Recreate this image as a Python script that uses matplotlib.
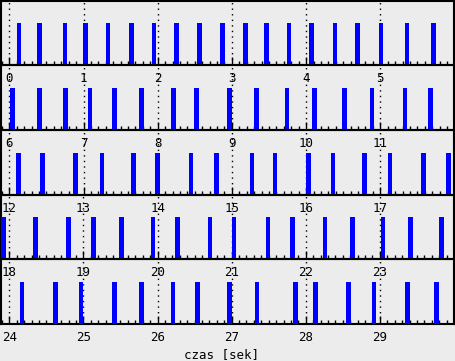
import numpy as np
import matplotlib.pyplot as plt

# beat times in seconds
beats_row1 = [0.13, 0.41, 0.75, 1.03, 1.33, 1.65, 1.95, 2.25, 2.56, 2.87,
              3.18, 3.47, 3.77, 4.07, 4.39, 4.69, 5.01, 5.36, 5.72]
beats_row2 = [6.04, 6.41, 6.76, 7.09, 7.42, 7.78, 8.21, 8.52, 8.97, 9.33,
              9.74, 10.11, 10.52, 10.89, 11.33, 11.68]
beats_row3 = [12.12, 12.45, 12.89, 13.25, 13.67, 14.00, 14.45, 14.79, 15.27, 15.58,
              16.03, 16.36, 16.79, 17.13, 17.58, 17.92]
beats_row4 = [18.35, 18.80, 19.14, 19.51, 19.94, 20.27, 20.71, 21.03, 21.49, 21.82,
              22.26, 22.63, 23.04, 23.41, 23.83]
beats_row5 = [24.17, 24.62, 24.97, 25.42, 25.78, 26.21, 26.54, 26.97, 27.34, 27.86,
              28.13, 28.58, 28.92, 29.37, 29.76]
beat_height = 0.65

beats = np.array(beats_row1 + beats_row2 + beats_row3 + beats_row4 + beats_row5)
row_starts = [0, 6, 12, 18, 24]

W, H = 455, 361
fig = plt.figure(figsize=(W / 100, H / 100), dpi=100, facecolor='#ececec')

# pixel rows of each strip (top edge), last value is bottom of last strip
row_px = [1, 65, 130, 195, 259, 324]

for k, t0 in enumerate(row_starts):
    top, bot = row_px[k], row_px[k + 1]
    ax = fig.add_axes([1 / W, 1 - bot / H, 453 / W, (bot - top) / H])
    ax.patch.set_alpha(0)    # transparent so the labels of the strip above stay visible

    lo, hi = t0 - 0.112, t0 + 5.993
    sel = beats[(beats > lo - 0.05) & (beats < hi + 0.05)]
    ax.bar(sel, beat_height, width=0.062, color='#0000ff', linewidth=0, zorder=3)

    ax.set_xlim(lo, hi)
    ax.set_ylim(0, 1)
    ax.set_yticks([])

    secs = np.arange(t0, t0 + 6)
    ax.set_xticks(secs)
    ax.set_xticklabels([str(s) for s in secs], family='DejaVu Sans Mono', fontsize=9)
    ax.set_xticks(np.arange(t0 - 0.1, t0 + 6, 0.1), minor=True)
    ax.tick_params(axis='x', which='major', direction='in', length=6, width=1, pad=5, color='black')
    ax.tick_params(axis='x', which='minor', direction='in', length=3, width=1, color='black')
    ax.grid(axis='x', which='major', color='black', linestyle=(0, (1, 3)), linewidth=1)

    for side in ax.spines.values():
        side.set_linewidth(1.5)
        side.set_color('black')

fig.text(222 / W, 1 - 355 / H, 'czas [sek]', family='DejaVu Sans Mono', fontsize=9,
         ha='center', va='center')

plt.savefig('out.png', dpi=100, facecolor='#ececec')
